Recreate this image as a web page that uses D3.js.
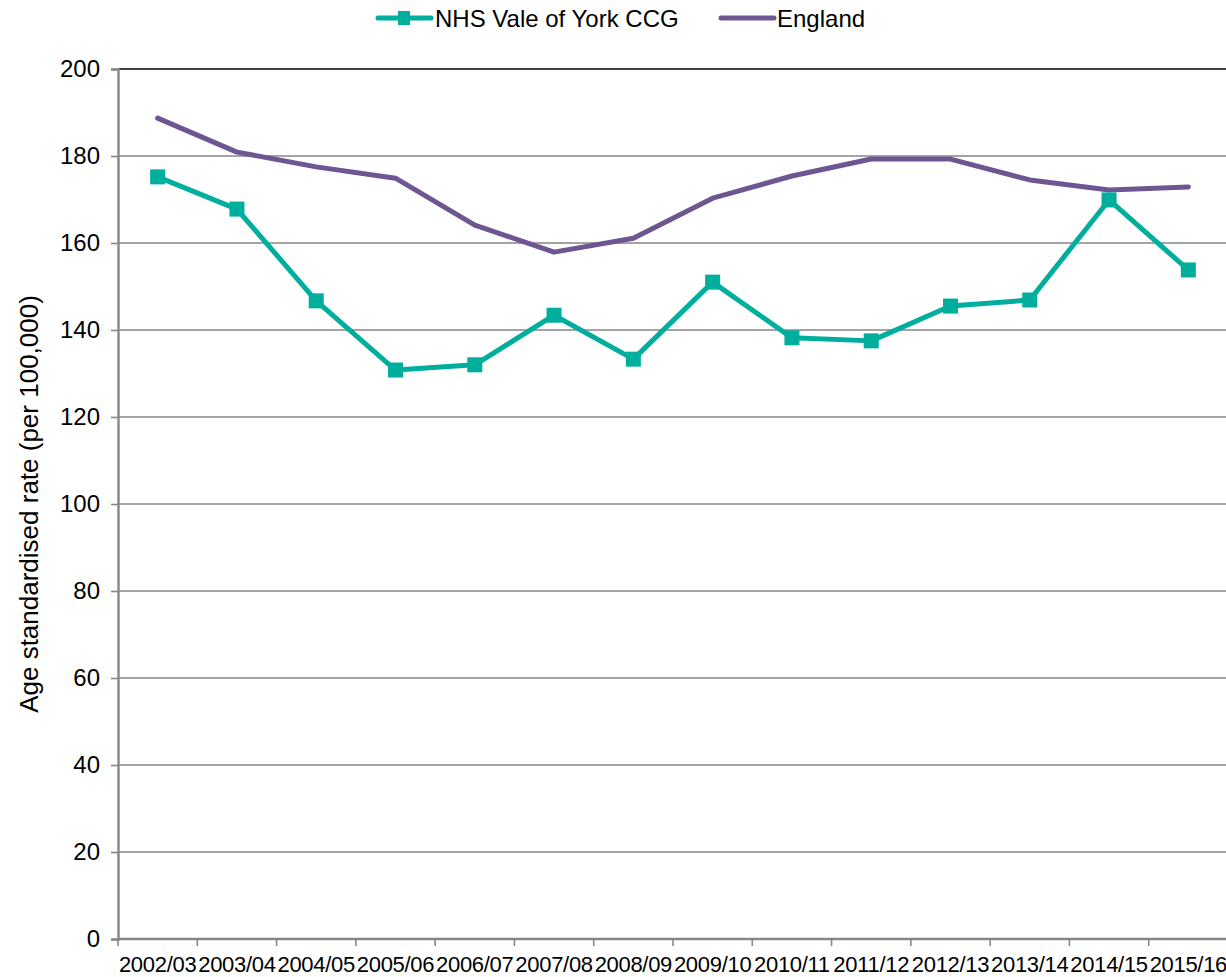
<!DOCTYPE html>
<html>
<head>
<meta charset="utf-8">
<script src="https://cdn.jsdelivr.net/npm/d3@7"></script>
<style>
  html, body { margin: 0; padding: 0; background: #fff; }
  svg { display: block; font-family: "Liberation Sans", Arial, sans-serif; }
</style>
</head>
<body>
<svg id="chart" width="1226" height="977"></svg>
<script>
// Financial years on the x axis
const years = ["2002/03","2003/04","2004/05","2005/06","2006/07","2007/08","2008/09",
               "2009/10","2010/11","2011/12","2012/13","2013/14","2014/15","2015/16"];
// Age standardised rate per 100,000
const valeOfYork = [175.2,167.8,146.7,130.8,132.0,143.4,133.3,151.0,138.2,137.5,145.5,146.9,169.9,153.8];
const england    = [188.7,180.9,177.5,174.9,164.1,157.9,161.1,170.3,175.4,179.3,179.3,174.5,172.2,172.9];
const yTicks = [0,20,40,60,80,100,120,140,160,180,200];
const seriesNames = ["NHS Vale of York CCG", "England"];

const teal = "#00AE9D", purple = "#6D5691", grid = "#868686";

const svg = d3.select("#chart");
const plotL = 118, plotR = 1228, plotT = 69, plotB = 939;

const x = d3.scaleBand().domain(years).range([plotL, plotR]);
const y = d3.scaleLinear().domain([0, 200]).range([plotB, plotT]);

// horizontal gridlines
svg.append("g").selectAll("line").data(yTicks.filter(d => d > 0)).join("line")
  .attr("x1", plotL).attr("x2", plotR)
  .attr("y1", d => y(d)).attr("y2", d => y(d))
  .attr("stroke", d => d === 200 ? "#000" : grid)
  .attr("stroke-width", d => d === 200 ? 1.6 : 1.4);

// y axis
const yAxis = svg.append("g").attr("transform", `translate(${plotL},0)`)
  .call(d3.axisLeft(y).tickValues(yTicks).tickSize(7).tickPadding(11));
yAxis.select(".domain").attr("stroke", grid).attr("stroke-width", 2.4);
yAxis.selectAll(".tick line").attr("stroke", grid).attr("stroke-width", 1.6);
yAxis.selectAll(".tick text").attr("font-size", 24).attr("fill", "#000")
  .attr("font-family", "Liberation Sans, Arial, sans-serif");

// x axis with ticks at category boundaries
const xAxisG = svg.append("g").attr("transform", `translate(0,${plotB})`);
xAxisG.append("line").attr("x1", plotL).attr("x2", plotR).attr("y1", 0).attr("y2", 0)
  .attr("stroke", grid).attr("stroke-width", 2.4);
xAxisG.selectAll("line.tk").data(years.concat(["end"])).join("line").attr("class", "tk")
  .attr("x1", (d, i) => plotL + i * x.bandwidth()).attr("x2", (d, i) => plotL + i * x.bandwidth())
  .attr("y1", 0).attr("y2", 7).attr("stroke", grid).attr("stroke-width", 1.6);
xAxisG.selectAll("text").data(years).join("text")
  .attr("x", d => x(d) + x.bandwidth() / 2).attr("y", 33)
  .attr("text-anchor", "middle").attr("font-size", 22).attr("letter-spacing", -0.3)
  .attr("fill", "#000")
  .text(d => d);

// y axis title
svg.append("text")
  .attr("transform", `translate(38,${(plotT + plotB) / 2}) rotate(-90)`)
  .attr("text-anchor", "middle").attr("font-size", 26).attr("fill", "#000")
  .text("Age standardised rate (per 100,000)");

const cx = (d, i) => x(years[i]) + x.bandwidth() / 2;
const line = d3.line().x(cx).y(d => y(d));

// England line
svg.append("path").datum(england).attr("d", line)
  .attr("fill", "none").attr("stroke", purple).attr("stroke-width", 5)
  .attr("stroke-linecap", "round").attr("stroke-linejoin", "round");

// CCG line with square markers
svg.append("path").datum(valeOfYork).attr("d", line)
  .attr("fill", "none").attr("stroke", teal).attr("stroke-width", 5)
  .attr("stroke-linejoin", "round");
const m = 15;
svg.append("g").selectAll("rect").data(valeOfYork).join("rect")
  .attr("x", (d, i) => cx(d, i) - m / 2).attr("y", d => y(d) - m / 2)
  .attr("width", m).attr("height", m).attr("fill", teal);

// legend
const lg = svg.append("g");
lg.append("line").attr("x1", 378).attr("x2", 431).attr("y1", 18).attr("y2", 18)
  .attr("stroke", teal).attr("stroke-width", 5).attr("stroke-linecap", "round");
lg.append("rect").attr("x", 398).attr("y", 11).attr("width", 12).attr("height", 14).attr("fill", teal);
lg.append("text").attr("x", 435).attr("y", 27).attr("font-size", 24).attr("fill", "#000").text(seriesNames[0]);
lg.append("line").attr("x1", 721).attr("x2", 774).attr("y1", 18).attr("y2", 18)
  .attr("stroke", purple).attr("stroke-width", 5).attr("stroke-linecap", "round");
lg.append("text").attr("x", 777).attr("y", 27).attr("font-size", 24).attr("fill", "#000").text(seriesNames[1]);
</script>
</body>
</html>
